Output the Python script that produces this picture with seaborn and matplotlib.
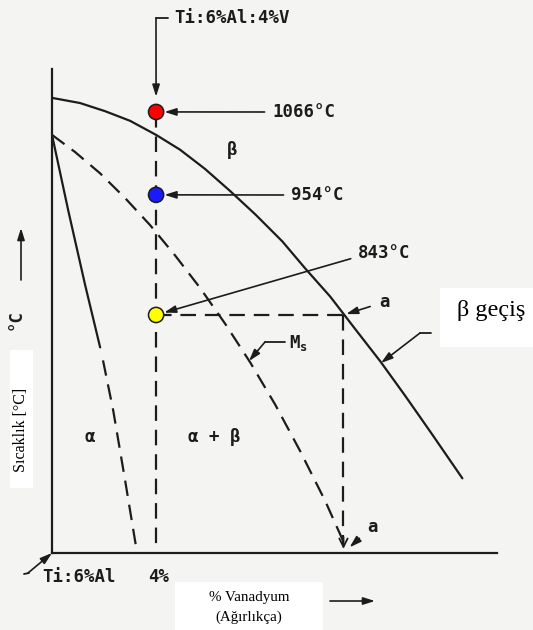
import numpy as np
import matplotlib
matplotlib.use("Agg")
import matplotlib.pyplot as plt
from matplotlib.lines import Line2D
from matplotlib.patches import Rectangle
from matplotlib.transforms import Affine2D
import seaborn as sns

# ---- data: wt % vanadium vs temperature (°C) ----
transus_v = [0.0, 1.08, 2.04, 3.0, 4.0, 4.92, 5.88, 6.85, 7.81, 8.85, 9.73, 10.69,
             11.65, 12.62, 13.58, 14.54, 15.77]
transus_t = [1085, 1078, 1067, 1054, 1035, 1015, 989, 959, 936, 911, 886, 860,
             830, 800, 768, 735, 692]

ms_v = [0.0, 0.88, 1.85, 2.81, 3.77, 4.73, 5.69, 6.65, 7.62, 8.58, 9.54, 10.5, 11.19]
ms_t = [1035, 1012, 983, 951, 926, 898, 868, 835, 799, 760, 717, 671, 634]

alpha_solid_v = [0.0, 0.62, 1.27, 1.85]
alpha_solid_t = [1035, 940, 871, 813]
alpha_dash_v = [1.96, 2.35, 2.81, 3.27]
alpha_dash_t = [801, 755, 690, 623]

alloy_v = 4.0
marker_temps = [1066, 954, 843]
marker_names = ["solution", "transus", "anneal"]
marker_colors = ["#ff0000", "#1a1aff", "#ffff00"]

a_point_v = 11.2          # composition where 843 °C meets the transus
T_FLOOR, T_KNEE, T_TOP = 623, 954, 1124
V_MAX = 17.1

# schematic (not to scale) temperature axis: two linear pieces joined at T_KNEE
KNEE_FRAC = 0.74


def to_height(t):
    t = np.asarray(t, dtype=float)
    lo = (t - T_FLOOR) / (T_KNEE - T_FLOOR) * KNEE_FRAC
    hi = KNEE_FRAC + (t - T_KNEE) / (T_TOP - T_KNEE) * (1 - KNEE_FRAC)
    return np.where(t <= T_KNEE, lo, hi)


def to_temp(h):
    h = np.asarray(h, dtype=float)
    lo = T_FLOOR + h / KNEE_FRAC * (T_KNEE - T_FLOOR)
    hi = T_KNEE + (h - KNEE_FRAC) / (1 - KNEE_FRAC) * (T_TOP - T_KNEE)
    return np.where(h <= KNEE_FRAC, lo, hi)


# ---- style ----
BG = "#f4f4f2"
INK = "#1c1c1c"
MONO = "DejaVu Sans Mono"
SERIF = "Liberation Serif"
LW = 1.6
DASH = (0, (7, 4))

sns.set_theme(style="white")
plt.rcParams["font.family"] = ["DejaVu Sans"]

W, H = 533, 630
fig = plt.figure(figsize=(W / 100, H / 100), dpi=100)
fig.patch.set_facecolor(BG)
# pixel frame with origin at top-left, for labels and leaders
pix = Affine2D().scale(1 / W, -1 / H).translate(0, 1) + fig.transFigure

ax = fig.add_axes([52 / W, 77 / H, 445 / W, 484 / H])
ax.patch.set_visible(False)

line_kw = dict(ax=ax, color=INK, lw=LW, sort=False, estimator=None)

# phase boundaries
sns.lineplot(x=transus_v, y=transus_t, **line_kw)
sns.lineplot(x=ms_v, y=ms_t, ls=DASH, **line_kw)
sns.lineplot(x=alpha_solid_v, y=alpha_solid_t, **line_kw)
sns.lineplot(x=alpha_dash_v, y=alpha_dash_t, ls=DASH, **line_kw)

# alloy composition line and the 843 °C construction lines
sns.lineplot(x=[alloy_v, alloy_v], y=[max(marker_temps), T_FLOOR + 4], ls=DASH, **line_kw)
sns.lineplot(x=[alloy_v, a_point_v], y=[min(marker_temps)] * 2, ls=DASH, **line_kw)
sns.lineplot(x=[a_point_v, a_point_v], y=[min(marker_temps), T_FLOOR + 8], ls=DASH, **line_kw)

sns.scatterplot(x=[alloy_v] * 3, y=marker_temps, hue=marker_names, palette=marker_colors,
                s=120, edgecolor=INK, linewidth=1.1, legend=False, zorder=5, ax=ax)

ax.set_yscale("function", functions=(to_height, to_temp))
ax.set_xlim(0, V_MAX)
ax.set_ylim(T_FLOOR, T_TOP)
ax.set_xticks([])
ax.set_yticks([])
ax.set_xlabel("")
ax.set_ylabel("")
for side in ("top", "right"):
    ax.spines[side].set_visible(False)
for side in ("left", "bottom"):
    ax.spines[side].set_color(INK)
    ax.spines[side].set_linewidth(LW)

head = "-|>,head_length=0.7,head_width=0.22"
arrow_kw = dict(arrowstyle=head, color=INK, lw=1.2, mutation_scale=10)
mono = dict(family=MONO, fontsize=12.5, color=INK, fontweight="bold")

# temperature callouts on the alloy line
label_pos = {1066: (272, 112), 954: (291, 195), 843: (358, 253)}
for t in marker_temps:
    rel = (0, 0.5) if t != 843 else (0, 0.3)
    ax.annotate(f"{t}°C", xy=(alloy_v, t), xycoords="data",
                xytext=label_pos[t], textcoords=pix, ha="left", va="center",
                arrowprops=dict(**arrow_kw, shrinkA=3, shrinkB=6, relpos=rel),
                annotation_clip=False, **mono)

# alloy designation with bracket arrow down to the composition line
fig.text(174, 18, "Ti:6%Al:4%V", transform=pix, ha="left", va="center", **mono)
fig.add_artist(Line2D([156, 168], [18, 18], transform=pix, color=INK, lw=1.3))
ax.annotate("", xy=(alloy_v, max(marker_temps)), xycoords="data",
            xytext=(156, 18), textcoords=pix,
            arrowprops=dict(**arrow_kw, shrinkA=0, shrinkB=11), annotation_clip=False)

# point "a" on the transus and its projection to the composition axis
ax.annotate("a", xy=(a_point_v, min(marker_temps)), xycoords="data",
            xytext=(384, 302), textcoords=pix, ha="center", va="center",
            arrowprops=dict(**arrow_kw, shrinkA=4, shrinkB=2, relpos=(0, 0.4)),
            annotation_clip=False, **mono)
ax.annotate("", xy=(a_point_v, T_FLOOR), xycoords="data",
            xytext=(0, 16), textcoords="offset pixels",
            arrowprops=dict(arrowstyle="->,head_length=0.6,head_width=0.3", color=INK,
                            lw=1.3, mutation_scale=10, shrinkA=0, shrinkB=3),
            annotation_clip=False)
ax.annotate("a", xy=(a_point_v, T_FLOOR), xycoords="data",
            xytext=(373, 527), textcoords=pix, ha="center", va="center",
            arrowprops=dict(**arrow_kw, shrinkA=5, shrinkB=6, relpos=(0, 0.3)),
            annotation_clip=False, **mono)

# phase field labels
fig.text(232, 150, "β", transform=pix, ha="center", va="center", **mono)
fig.text(90, 437, "α", transform=pix, ha="center", va="center", **mono)
fig.text(214, 437, "α + β", transform=pix, ha="center", va="center", **mono)

# martensite start leader
fig.text(289, 343, "M$_\\mathregular{s}$", transform=pix, ha="left", va="center", **mono)
fig.add_artist(Line2D([285, 265], [342, 342], transform=pix, color=INK, lw=1.3))
ax.annotate("", xy=(249, 361), xycoords=pix, xytext=(265, 342), textcoords=pix,
            arrowprops=dict(**arrow_kw, shrinkA=0, shrinkB=0), annotation_clip=False)

# beta transus caption
fig.add_artist(Rectangle((440, 288), 93, 59, transform=pix, facecolor="white",
                         edgecolor="none"))
fig.text(457, 316, "β geçiş", transform=pix, ha="left", va="baseline",
         family=SERIF, fontsize=17.5, color="black")
fig.add_artist(Line2D([431, 420], [333, 333], transform=pix, color=INK, lw=1.3))
ax.annotate("", xy=(381, 363), xycoords=pix, xytext=(420, 333), textcoords=pix,
            arrowprops=dict(**arrow_kw, shrinkA=0, shrinkB=0), annotation_clip=False)

# temperature axis caption
fig.text(16, 320, "°C", transform=pix, ha="center", va="center", rotation=90, **mono)
ax.annotate("", xy=(21, 228), xycoords=pix, xytext=(21, 280), textcoords=pix,
            arrowprops=dict(**arrow_kw, shrinkA=0, shrinkB=0), annotation_clip=False)
fig.add_artist(Rectangle((10, 350), 23, 138, transform=pix, facecolor="white",
                         edgecolor="none"))
fig.text(21, 430, "Sıcaklık [°C]", transform=pix, ha="center", va="center",
         rotation=90, family=SERIF, fontsize=11.5, color="black")

# composition axis captions
fig.text(42, 577, "Ti:6%Al", transform=pix, ha="left", va="center", **mono)
fig.add_artist(Line2D([24, 29], [574, 573], transform=pix, color=INK, lw=1.3))
ax.annotate("", xy=(52, 553), xycoords=pix, xytext=(28, 573), textcoords=pix,
            arrowprops=dict(**arrow_kw, shrinkA=0, shrinkB=0), annotation_clip=False)
fig.text(148, 577, f"{alloy_v:.0f}%", transform=pix, ha="left", va="center", **mono)

fig.add_artist(Rectangle((175, 582), 148, 48, transform=pix, facecolor="white",
                         edgecolor="none"))
fig.text(249, 597, "% Vanadyum", transform=pix, ha="center", va="center",
         family=SERIF, fontsize=10.8, color="black")
fig.text(249, 617, "(Ağırlıkça)", transform=pix, ha="center", va="center",
         family=SERIF, fontsize=10.8, color="black")
ax.annotate("", xy=(375, 601), xycoords=pix, xytext=(330, 601), textcoords=pix,
            arrowprops=dict(**arrow_kw, shrinkA=0, shrinkB=0), annotation_clip=False)

fig.savefig("out.png", dpi=100, facecolor=BG)
